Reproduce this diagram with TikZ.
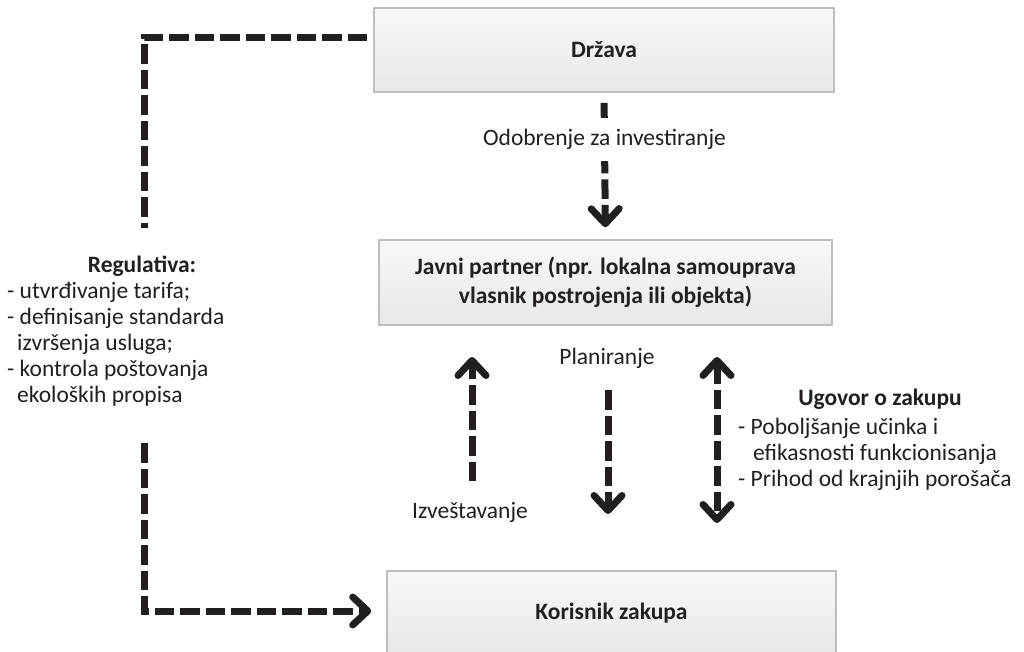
\documentclass[tikz,border=0pt]{standalone}
\usepackage{fontspec}
\setmainfont{Carlito}
\usetikzlibrary{arrows.meta}
\definecolor{ink}{HTML}{231F20}
\definecolor{boxline}{HTML}{BEBEBE}
\definecolor{boxtop}{HTML}{F8F8F8}
\definecolor{boxbot}{HTML}{E8E8E8}

\begin{document}
\begin{tikzpicture}[x=1pt,y=-1pt,
  txt/.style={font=\fontsize{23.5}{25.8}\selectfont, text=ink, inner sep=0pt},
  hd/.style={txt, font=\fontsize{23.5}{25.8}\selectfont\bfseries},
  panel/.style={draw=boxline, line width=1.6pt, top color=boxtop, bottom color=boxbot,
    text=ink, font=\fontsize{23.5}{29}\selectfont\bfseries, align=center, inner sep=0pt},
  flow/.style={draw=ink, line width=7pt, dash pattern=on 19.5pt off 6pt},
  barb/.tip={Straight Barb[length=15pt,width=28pt,round]},
  tip/.style={-barb},
  both/.style={barb-barb},
]
% canvas
\clip (0,0) rectangle (1024,652);
\fill[white] (0,0) rectangle (1024,652);

% boxes
\node[panel, minimum width=460pt, minimum height=84pt] (drzava) at (604,50) {Država};
\node[panel, minimum width=453pt, minimum height=85pt] (javni) at (605.5,282.5)
  {Javni partner (npr. lokalna samouprava\\vlasnik postrojenja ili objekta)};
\node[panel, minimum width=449pt, minimum height=84pt] (korisnik) at (611.5,613) {Korisnik zakupa};

% regulation branch on the left (list anchored at its last baseline)
\node[hd] (regT) at (142,266) {Regulativa:};
\node[txt, align=left, anchor=base west] (regL) at (7,402)
  {- utvrđivanje tarifa;\\- definisanje standarda\\\hspace*{10pt}izvršenja usluga;\\- kontrola poštovanja\\\hspace*{10pt}ekoloških propisa};
\coordinate (regTop) at (144,228);
\coordinate (regBot) at (144,443);
\draw[flow] ([xshift=-6pt,yshift=12pt]drzava.west) -| (regTop);
\draw[flow,tip] (regBot) |- ([xshift=-15pt,yshift=2pt]korisnik.west);

% approval
\draw[flow,tip,shorten <=10pt,shorten >=12pt] (drzava.south) --
  node[txt, fill=white, inner xsep=4pt, inner ysep=11pt, pos=0.32] (odob) {Odobrenje za investiranje}
  (javni.north);

% reporting, planning, lease contract
\node[txt] (izv) at (470,512) {Izveštavanje};
\node[txt] (plan) at (607,358) {Planiranje};
\coordinate (izvA) at (472,481);
\coordinate (izvB) at (472,357);
\coordinate (planA) at (608,390);
\coordinate (planB) at (608,514);
\coordinate (ugA) at (717,357);
\coordinate (ugB) at (717,523);
\draw[flow,tip] (izvA) -- (izvB);
\draw[flow,tip] (planA) -- (planB);
\draw[flow,both] (ugA) -- (ugB);

\node[hd] (ugT) at (880,399) {Ugovor o zakupu};
\node[txt, align=left, anchor=base west] (ugL) at (738,486)
  {- Poboljšanje učinka i\\\hspace*{15pt}efikasnosti funkcionisanja\\- Prihod od krajnjih porošača};
\end{tikzpicture}
\end{document}
